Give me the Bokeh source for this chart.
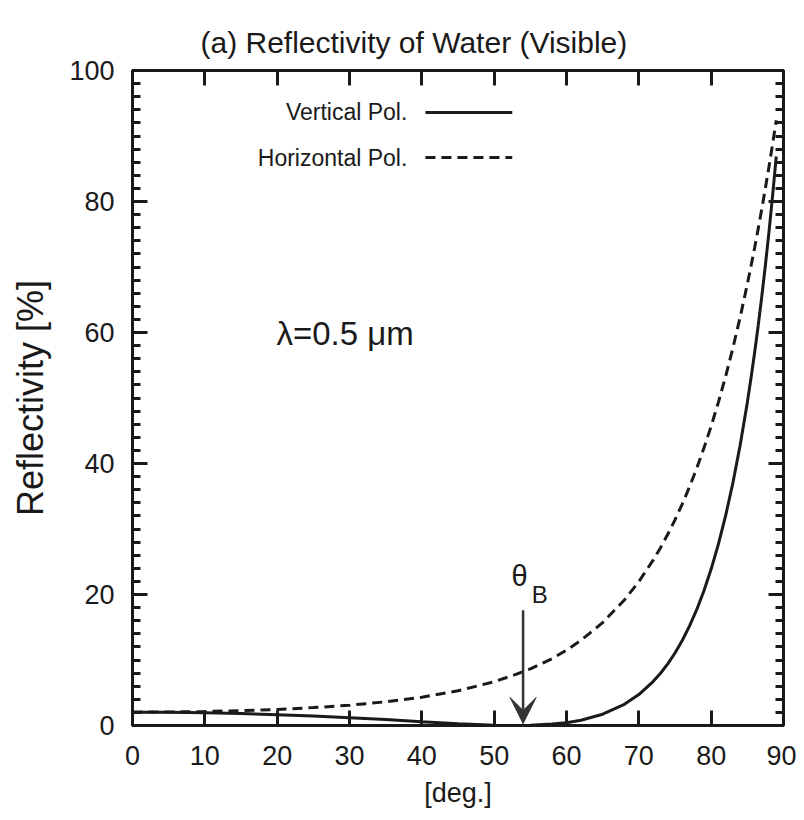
from bokeh.plotting import figure
from bokeh.models import (Range1d, LinearAxis, SingleIntervalTicker, Label, Arrow, VeeHead)
from bokeh.embed import file_html
from bokeh.resources import INLINE

# ---- data ----
angle_deg = [0, 5, 10, 15, 20, 25, 30, 35, 40, 45, 50, 53, 55, 58, 60, 62, 65, 68, 70, 72,
             73, 74, 75, 76, 77, 78, 79, 80, 81, 82, 83, 84, 85, 85.5, 86, 86.5, 87, 87.5,
             88, 88.5, 89]
vertical_pol = [2.04, 2.01, 1.94, 1.83, 1.66, 1.45, 1.19, 0.91, 0.59, 0.28, 0.05, 0.0, 0.02, 0.22,
                0.43, 0.80, 1.72, 3.24, 4.73, 6.74,
                7.98, 9.42, 11.07, 12.98, 15.17, 17.68, 20.57, 23.88, 27.68, 32.04, 37.03, 42.76,
                49.33, 52.97, 56.87, 61.04, 65.52, 70.31, 75.45, 80.96, 86.87]
horizontal_pol = [2.04, 2.06, 2.13, 2.27, 2.45, 2.73, 3.09, 3.62, 4.32, 5.30, 6.68, 7.80, 8.65, 10.2,
                  11.51, 13.0, 15.71, 19.16, 21.97, 25.28,
                  27.15, 29.19, 31.40, 33.81, 36.42, 39.26, 42.35, 45.70, 49.35, 53.31, 57.62, 62.30,
                  67.38, 70.08, 72.89, 75.82, 78.87, 82.05, 85.36, 88.80, 92.39]
brewster_angle = 54
series_labels = ["Vertical Pol.", "Horizontal Pol."]
title_text = "(a) Reflectivity of Water (Visible)"
x_label = "[deg.]"
y_label = "Reflectivity [%]"

FONT = "Liberation Sans"
INK = "#1a1a1a"

p = figure(width=796, height=812, output_backend="svg", toolbar_location=None,
           x_range=Range1d(0, 90), y_range=Range1d(0, 100),
           min_border_left=132, min_border_right=13, min_border_top=70, min_border_bottom=87,
           x_axis_label=x_label, y_axis_label=y_label, title=title_text)
p.grid.visible = False
p.background_fill_color = "white"
p.border_fill_color = "white"
p.outline_line_color = INK
p.outline_line_width = 3

p.title.text_font = FONT
p.title.text_font_size = "30px"
p.title.text_font_style = "normal"
p.title.text_color = INK
p.title.align = "left"
p.title.offset = 68
p.title.standoff = 24

xt = SingleIntervalTicker(interval=10, num_minor_ticks=0)
yt = SingleIntervalTicker(interval=20, num_minor_ticks=10)

def style(ax, labels):
    ax.axis_line_color = INK
    ax.axis_line_width = 3
    ax.major_tick_in = 15
    ax.major_tick_out = 0
    ax.minor_tick_in = 8
    ax.minor_tick_out = 0
    ax.major_tick_line_width = 3
    ax.minor_tick_line_width = 3
    ax.major_tick_line_color = INK
    ax.minor_tick_line_color = INK
    if labels:
        ax.major_label_text_font = FONT
        ax.major_label_text_font_size = "27px"
        ax.major_label_text_color = INK
        ax.axis_label_text_font = FONT
        ax.axis_label_text_font_style = "normal"
        ax.axis_label_text_color = INK
    else:
        ax.major_label_text_font_size = "0px"
        ax.major_label_text_color = None

p.xaxis.ticker = xt
p.yaxis.ticker = yt
style(p.xaxis[0], True)
style(p.yaxis[0], True)
p.xaxis.minor_tick_line_color = None
p.xaxis.major_label_standoff = 20
p.xaxis.axis_label_text_font_size = "27px"
p.xaxis.axis_label_standoff = 10
p.yaxis.major_label_standoff = 18
p.yaxis.axis_label_text_font_size = "36px"
p.yaxis.axis_label_standoff = 15

top = LinearAxis(ticker=SingleIntervalTicker(interval=10, num_minor_ticks=0))
style(top, False)
top.minor_tick_line_color = None
p.add_layout(top, "above")
right = LinearAxis(ticker=SingleIntervalTicker(interval=20, num_minor_ticks=10))
style(right, False)
p.add_layout(right, "right")

# curves
p.line(angle_deg, vertical_pol, line_color=INK, line_width=3)
p.line(angle_deg, horizontal_pol, line_color=INK, line_width=3, line_dash="10 6")

# legend (label left of sample)
p.segment(x0=[40.5], y0=[93.6], x1=[52.5], y1=[93.6], line_color=INK, line_width=3)
p.segment(x0=[40.5], y0=[86.7], x1=[52.5], y1=[86.7], line_color=INK, line_width=3, line_dash="10 6")
for txt, yy in zip(series_labels, [93.6, 86.7]):
    p.add_layout(Label(x=38.0, y=yy, text=txt, text_align="right", text_baseline="middle",
                       text_font=FONT, text_font_size="23px", text_color=INK))

# wavelength annotation
p.add_layout(Label(x=19.9, y=59.8, text="\u03bb=0.5 \u03bcm", text_align="left", text_baseline="middle",
                   text_font=FONT, text_font_size="33px", text_color=INK))

# Brewster angle arrow
p.add_layout(Arrow(end=VeeHead(size=26, fill_color="#333333", line_color="#333333"),
                   x_start=brewster_angle, y_start=17.6, x_end=brewster_angle, y_end=0.3,
                   line_color="#333333", line_width=2.5))
p.add_layout(Label(x=53.5, y=22.9, text="\u03b8", text_align="center", text_baseline="middle",
                   text_font=FONT, text_font_size="29px", text_color=INK))
p.add_layout(Label(x=56.3, y=20.0, text="B", text_align="center", text_baseline="middle",
                   text_font=FONT, text_font_size="24px", text_color=INK))

open("out.html", "w").write(file_html(p, INLINE))
